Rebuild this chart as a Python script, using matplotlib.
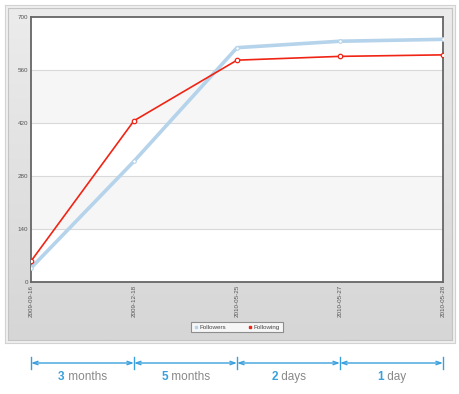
import matplotlib
matplotlib.use("Agg")
import matplotlib.pyplot as plt
import numpy as np
from matplotlib.patches import Rectangle
from matplotlib.colors import LinearSegmentedColormap
from matplotlib.lines import Line2D

dates = ["2009-09-16", "2009-12-18", "2010-05-25", "2010-05-27", "2010-05-28"]
followers = [37, 319, 619, 636, 641]
following = [55, 426, 586, 596, 600]
yticks = [0, 140, 280, 420, 560, 700]
gap_nums = ["3", "5", "2", "1"]
gap_units = ["months", "months", "days", "day"]

plt.rcParams['font.family'] = ['Liberation Sans', 'DejaVu Sans']
W, H = 460, 394
fig = plt.figure(figsize=(W / 100, H / 100), dpi=100)
fig.patch.set_facecolor('white')

def fx(px):
    return px / W

def fy(py):
    return 1 - py / H

# outer panel
outer = fig.add_axes([fx(5), fy(343), fx(450), 338 / H], zorder=-3)
outer.set_xticks([]); outer.set_yticks([])
outer.set_facecolor('#f0f0f0')
for s in outer.spines.values():
    s.set_color('#d2d2d2'); s.set_linewidth(0.8)

bg = fig.add_axes([fx(8), fy(340), fx(444), 332 / H], zorder=-2)
grad = np.linspace(0, 1, 256).reshape(-1, 1)
cmap = LinearSegmentedColormap.from_list('g', ['#ececec', '#d6d6d6'])
bg.imshow(grad, aspect='auto', cmap=cmap, extent=[0, 1, 0, 1], origin='upper')
bg.set_xticks([]); bg.set_yticks([])
for s in bg.spines.values():
    s.set_color('#c4c4c4'); s.set_linewidth(0.8)

ax = fig.add_axes([fx(31), fy(282), fx(412), 265 / H], zorder=2)
ax.set_facecolor('white')
x = np.arange(len(dates))
ax.set_xlim(x[0], x[-1])
ax.set_ylim(yticks[0], yticks[-1])
for i in range(len(yticks) - 1):
    if i % 2 == 1:
        ax.axhspan(yticks[i], yticks[i + 1], color='#f6f6f6', zorder=0, lw=0)
for t in yticks[1:-1]:
    ax.axhline(t, color='#d9d9d9', lw=0.8, zorder=1)

ax.plot(x, followers, color='#b5d3ea', lw=2.6, zorder=3, marker='o', ms=2.6,
        mfc='white', mec='#b5d3ea', mew=0.8, label='Followers', solid_capstyle='round')
ax.plot(x, following, color='#f02414', lw=1.2, zorder=4, marker='o', ms=3.2,
        mfc='white', mec='#f02414', mew=0.9, label='Following')

ax.set_yticks(yticks)
ax.set_yticklabels([str(t) for t in yticks], fontsize=4.5, color='#555555')
ax.set_xticks(x)
ax.set_xticklabels(dates, rotation=90, fontsize=4.5, color='#555555', va='top')
ax.tick_params(length=0, pad=2)
for s in ax.spines.values():
    s.set_color('#666666')
    s.set_linewidth(1.3)

handles = [Line2D([], [], ls='none', marker='s', ms=2, color='#b5d3ea'),
           Line2D([], [], ls='none', marker='s', ms=2, color='#f02414')]
leg = fig.legend(handles, ['Followers', 'Following'], loc='center',
                 bbox_to_anchor=(fx(237), fy(327)), ncol=2, fontsize=4.5,
                 frameon=True, fancybox=False, edgecolor='#777777', facecolor='white',
                 handlelength=0.6, handletextpad=0.3, columnspacing=3.5,
                 borderpad=0.4, labelcolor='#444444')
leg.get_frame().set_linewidth(0.8)
leg.set_zorder(5)

# annotation row
ann = fig.add_axes([fx(31), 0, fx(412), 1], zorder=3)
ann.set_xlim(x[0], x[-1])
ann.set_ylim(394, 0)
ann.set_axis_off()
blue = '#3aa0dc'
ay = 363
for xi in x:
    ann.plot([xi, xi], [357, 369], color=blue, lw=1.0, clip_on=False)
for i in range(len(x) - 1):
    ann.annotate('', xy=(x[i + 1], ay), xytext=(x[i], ay),
                 arrowprops=dict(arrowstyle='<->,head_length=0.35,head_width=0.12',
                                 color=blue, lw=1.0, shrinkA=0, shrinkB=0), annotation_clip=False)

fig.canvas.draw()
r = fig.canvas.get_renderer()
for i in range(len(x) - 1):
    cx = (x[i] + x[i + 1]) / 2
    t1 = ann.text(cx, 377, gap_nums[i], fontsize=8.5, fontweight='bold', color=blue,
                  ha='left', va='center')
    t2 = ann.text(cx, 377, ' ' + gap_units[i], fontsize=8.5, color='#888888',
                  ha='left', va='center')
    w1 = t1.get_window_extent(r).width
    w2 = t2.get_window_extent(r).width
    tot = w1 + w2
    inv = ann.transData.inverted()
    x0 = ann.transData.transform((cx, 377))[0] - tot / 2
    t1.set_x(inv.transform((x0, 0))[0])
    t2.set_x(inv.transform((x0 + w1, 0))[0])

fig.savefig('out.png', dpi=100)
